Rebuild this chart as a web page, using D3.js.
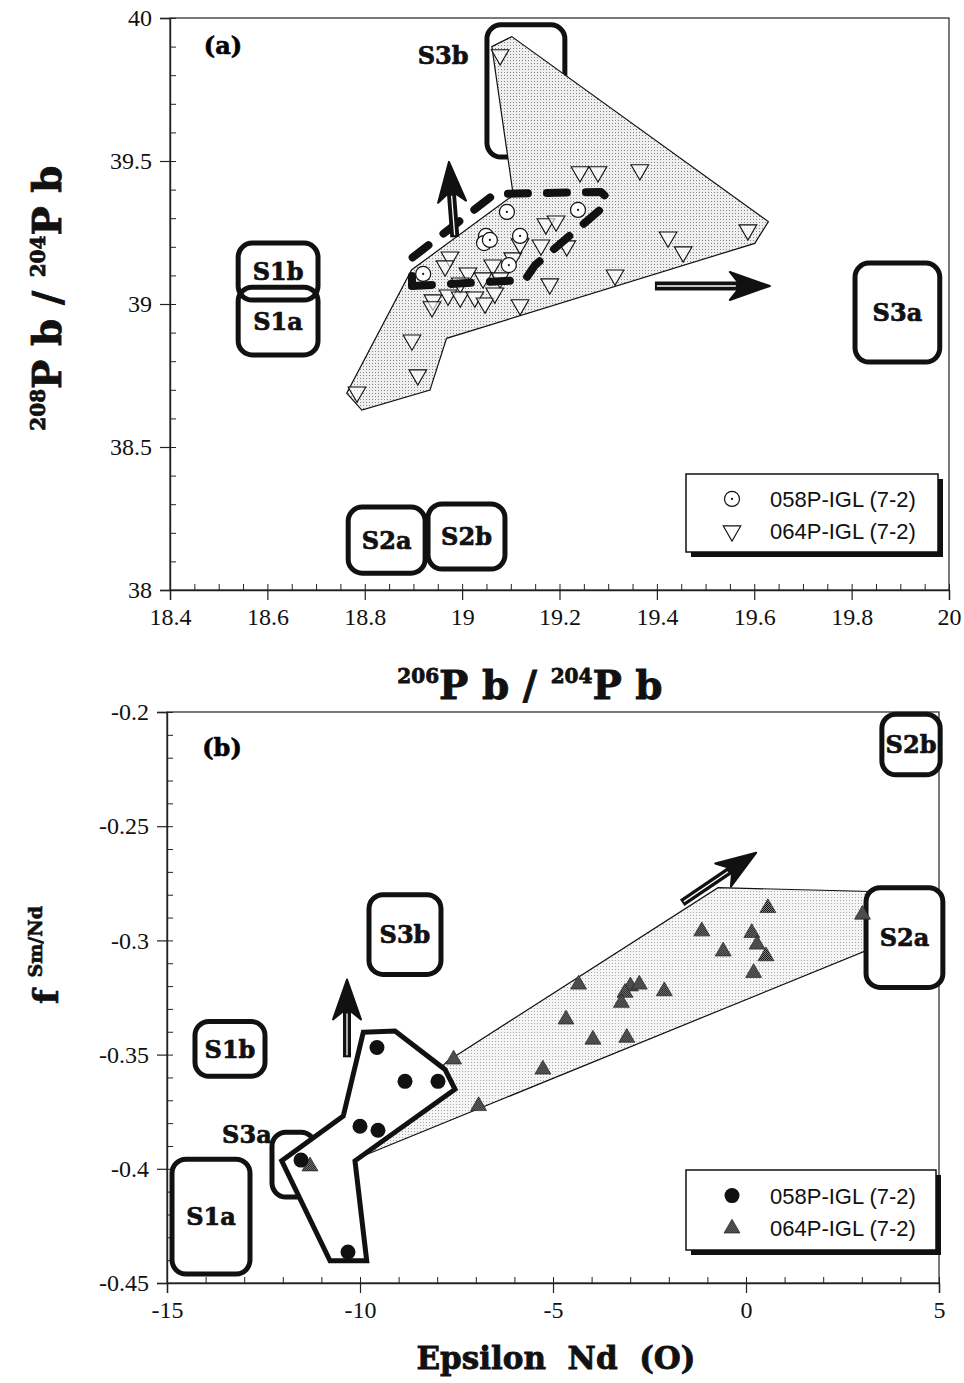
<!DOCTYPE html>
<html>
<head>
<meta charset="utf-8">
<script src="https://cdn.jsdelivr.net/npm/d3@7"></script>
<style>
  body { margin: 0; background: #fff; }
  svg { display: block; }
</style>
</head>
<body>
<svg id="chart" width="964" height="1383"></svg>
<script>
// ---------- Panel (a): 206Pb/204Pb vs 208Pb/204Pb ----------
const pbXTicks = [18.4, 18.6, 18.8, 19, 19.2, 19.4, 19.6, 19.8, 20];
const pbXTickLabels = ["18.4", "18.6", "18.8", "19", "19.2", "19.4", "19.6", "19.8", "20"];
const pbYTicks = [38, 38.5, 39, 39.5, 40];
const pbYTickLabels = ["38", "38.5", "39", "39.5", "40"];

// 058P-IGL (7-2) samples  [206Pb/204Pb, 208Pb/204Pb]
const pb058 = [
  [18.920, 39.105], [19.049, 39.238], [19.045, 39.213], [19.057, 39.224],
  [19.092, 39.322], [19.119, 39.238], [19.238, 39.329], [19.096, 39.136]
];
// 064P-IGL (7-2) samples
const pb064 = [
  [19.078, 39.871], [19.242, 39.462], [19.279, 39.462], [19.365, 39.469],
  [19.587, 39.259], [19.423, 39.234], [19.454, 39.182], [19.314, 39.101],
  [19.180, 39.070], [19.119, 38.997], [19.172, 39.280], [19.193, 39.290],
  [19.215, 39.203], [19.162, 39.206], [19.104, 39.161], [19.063, 39.136],
  [19.119, 39.210], [18.975, 39.164], [18.965, 39.133], [19.012, 39.108],
  [19.043, 39.091], [19.078, 39.091], [18.996, 39.073], [18.940, 39.014],
  [18.938, 38.990], [18.971, 39.031], [18.996, 39.024], [19.026, 39.024],
  [19.047, 39.003], [19.067, 39.038], [18.897, 38.874], [18.909, 38.752],
  [18.784, 38.692]
];
// field enclosing the 064P samples
const pbField064 = [
  [19.061, 39.900], [19.102, 39.935], [19.629, 39.288], [19.601, 39.212],
  [18.968, 38.880], [18.934, 38.699], [18.794, 38.629], [18.763, 38.688],
  [18.896, 39.119], [19.105, 39.381]
];
// dashed outline enclosing the 058P samples
const pbField058 = [
  [18.897, 39.063], [19.129, 39.084], [19.150, 39.136], [19.283, 39.329],
  [19.298, 39.371], [19.285, 39.392], [19.067, 39.385], [18.897, 39.161]
];
// end-member fields
const pbBoxes = [
  { label: "S1b", x0: 18.540, x1: 18.704, y0: 39.014, y1: 39.213 },
  { label: "S1a", x0: 18.540, x1: 18.704, y0: 38.822, y1: 39.059 },
  { label: "S3b", x0: 19.051, x1: 19.211, y0: 39.514, y1: 39.976, side: [18.961, 39.871] },
  { label: "S2a", x0: 18.766, x1: 18.924, y0: 38.059, y1: 38.290 },
  { label: "S2b", x0: 18.930, x1: 19.088, y0: 38.073, y1: 38.301 },
  { label: "S3a", x0: 19.807, x1: 19.981, y0: 38.797, y1: 39.143 }
];
// trend arrows [from, to]
const pbArrows = [
  [[18.985, 39.234], [18.973, 39.497]],
  [[19.396, 39.063], [19.632, 39.063]]
];

// ---------- Panel (b): Epsilon Nd vs fSm/Nd ----------
const ndXTicks = [-15, -10, -5, 0, 5];
const ndXTickLabels = ["-15", "-10", "-5", "0", "5"];
const ndYTicks = [-0.45, -0.4, -0.35, -0.3, -0.25, -0.2];
const ndYTickLabels = ["-0.45", "-0.4", "-0.35", "-0.3", "-0.25", "-0.2"];

const nd058 = [
  [-9.560, -0.3469], [-8.834, -0.3617], [-7.979, -0.3617], [-10.00, -0.3814],
  [-9.534, -0.3831], [-11.528, -0.3962], [-10.311, -0.4364]
];
const nd064 = [
  [0.567, -0.2858], [-1.145, -0.2960], [0.150, -0.2967], [0.287, -0.3018],
  [-0.591, -0.3048], [0.518, -0.3069], [0.197, -0.3142], [3.018, -0.2887],
  [-4.337, -0.3193], [-2.995, -0.3201], [-2.764, -0.3193], [-2.117, -0.3222],
  [-3.135, -0.3229], [-3.228, -0.3273], [-4.663, -0.3346], [-3.966, -0.3434],
  [-3.088, -0.3426], [-5.262, -0.3565], [-7.575, -0.3521], [-6.927, -0.3725],
  [-11.295, -0.3989]
];
const ndField064 = [
  [-10.130, -0.3958], [-7.746, -0.3530], [-0.725, -0.2769],
  [3.500, -0.2787], [3.500, -0.3018]
];
const ndField058 = [
  [-9.914, -0.3402], [-9.093, -0.3397], [-7.798, -0.3565], [-7.539, -0.3652],
  [-10.130, -0.3965], [-9.826, -0.4403], [-10.777, -0.4403], [-12.028, -0.3965],
  [-10.433, -0.3769]
];
const ndBoxes = [
  { label: "S2b", x0: 3.52, x1: 5.03, y0: -0.2275, y1: -0.2010 },
  { label: "S2a", x0: 3.11, x1: 5.10, y0: -0.3206, y1: -0.2769, fill: true },
  { label: "S3b", x0: -9.767, x1: -7.902, y0: -0.3149, y1: -0.2800 },
  { label: "S1b", x0: -14.275, x1: -12.461, y0: -0.3595, y1: -0.3355 },
  { label: "S1a", x0: -14.870, x1: -12.850, y0: -0.4461, y1: -0.3958 },
  { label: "S3a", x0: -12.280, x1: -11.166, y0: -0.4124, y1: -0.3840, side: [-12.93, -0.3850] }
];
const ndArrows = [
  [[-10.337, -0.3512], [-10.337, -0.3171]],
  [[-1.653, -0.2835], [0.264, -0.2616]]
];

const seriesNames = ["058P-IGL (7-2)", "064P-IGL (7-2)"];

// ---------- drawing ----------
const svg = d3.select("#chart");
const defs = svg.append("defs");

const stip = defs.append("pattern").attr("id", "stipple")
  .attr("patternUnits", "userSpaceOnUse").attr("width", 3).attr("height", 3);
stip.append("rect").attr("width", 3).attr("height", 3).attr("fill", "#efefef");
stip.append("rect").attr("x", 0).attr("y", 0).attr("width", 1).attr("height", 1).attr("fill", "#858585");

const stipL = defs.append("pattern").attr("id", "stippleLight")
  .attr("patternUnits", "userSpaceOnUse").attr("width", 3).attr("height", 3);
stipL.append("rect").attr("width", 3).attr("height", 3).attr("fill", "#f5f5f5");
stipL.append("rect").attr("x", 0).attr("y", 0).attr("width", 1).attr("height", 1).attr("fill", "#a8a8a8");

const chk = defs.append("pattern").attr("id", "checker")
  .attr("patternUnits", "userSpaceOnUse").attr("width", 2).attr("height", 2);
chk.append("rect").attr("width", 2).attr("height", 2).attr("fill", "#999");
chk.append("rect").attr("width", 1).attr("height", 1).attr("fill", "#000");
chk.append("rect").attr("x", 1).attr("y", 1).attr("width", 1).attr("height", 1).attr("fill", "#000");

const TITLE_FONT = "DejaVu Serif";
const TICK_FONT = "Liberation Serif";

function drawAxes(x, y, xTicks, xLabels, yTicks, yLabels, xMinor, yMinor) {
  const [x0, x1] = x.range();
  const [y0, y1] = y.range();
  const g = svg.append("g");
  // frame
  g.append("rect").attr("x", x0).attr("y", y1).attr("width", x1 - x0).attr("height", y0 - y1)
    .attr("fill", "none").attr("stroke", "#222").attr("stroke-width", 1.2);
  // minor ticks (inside)
  g.append("g").attr("transform", `translate(0,${y0})`)
    .call(d3.axisBottom(x).tickValues(xMinor).tickSize(-6).tickFormat(""))
    .call(s => s.select(".domain").remove());
  g.append("g").attr("transform", `translate(${x0},0)`)
    .call(d3.axisLeft(y).tickValues(yMinor).tickSize(-6).tickFormat(""))
    .call(s => s.select(".domain").remove());
  // major ticks (outside) with labels
  const ax = g.append("g").attr("transform", `translate(0,${y0})`)
    .call(d3.axisBottom(x).tickValues(xTicks).tickSize(10).tickPadding(8)
      .tickFormat((d, i) => xLabels[i]));
  const ay = g.append("g").attr("transform", `translate(${x0},0)`)
    .call(d3.axisLeft(y).tickValues(yTicks).tickSize(10).tickPadding(8)
      .tickFormat((d, i) => yLabels[i]));
  [ax, ay].forEach(a => {
    a.select(".domain").attr("stroke", "#222").attr("stroke-width", 1.4);
    a.selectAll("line").attr("stroke", "#222").attr("stroke-width", 1.2);
    a.selectAll("text").attr("font-family", TICK_FONT).attr("font-size", 24).attr("fill", "#111");
  });
  g.selectAll("line").attr("stroke", "#222");
}

function roundBox(g, x, y, b) {
  const X0 = x(b.x0), X1 = x(b.x1), Y0 = y(b.y1), Y1 = y(b.y0);
  g.append("rect").attr("x", X0).attr("y", Y0).attr("width", X1 - X0).attr("height", Y1 - Y0)
    .attr("rx", 14).attr("ry", 14)
    .attr("fill", b.fill ? "#fff" : "none").attr("stroke", "#111").attr("stroke-width", 5);
}

function boxLabel(g, x, y, b) {
  const pos = b.side ? [x(b.side[0]), y(b.side[1])] : [(x(b.x0) + x(b.x1)) / 2, (y(b.y0) + y(b.y1)) / 2];
  g.append("text").attr("x", pos[0]).attr("y", pos[1]).attr("dy", "0.36em")
    .attr("text-anchor", "middle").attr("font-family", TITLE_FONT).attr("font-weight", "bold")
    .attr("font-size", 24).attr("fill", "#111").attr("stroke", "#111").attr("stroke-width", 0.7)
    .text(b.label);
}

function arrow(g, p0, p1, headLen, headW, shaftW) {
  const ang = Math.atan2(p1[1] - p0[1], p1[0] - p0[0]);
  const ux = Math.cos(ang), uy = Math.sin(ang), nx = -uy, ny = ux;
  const bx = p1[0] - ux * headLen * 0.7, by = p1[1] - uy * headLen * 0.7;
  g.append("line").attr("x1", p0[0]).attr("y1", p0[1]).attr("x2", bx).attr("y2", by)
    .attr("stroke", "#111").attr("stroke-width", shaftW);
  g.append("line").attr("x1", p0[0] + ux * 2).attr("y1", p0[1] + uy * 2)
    .attr("x2", p1[0] - ux * headLen * 0.85).attr("y2", p1[1] - uy * headLen * 0.85)
    .attr("stroke", "#fff").attr("stroke-width", 1.3);
  const tip = p1;
  const l = [p1[0] - ux * headLen + nx * headW / 2, p1[1] - uy * headLen + ny * headW / 2];
  const r = [p1[0] - ux * headLen - nx * headW / 2, p1[1] - uy * headLen - ny * headW / 2];
  const n = [p1[0] - ux * headLen * 0.72, p1[1] - uy * headLen * 0.72];
  g.append("path").attr("d", d3.line()([tip, l, n, r]) + "Z").attr("fill", "#111")
    .attr("stroke", "#111").attr("stroke-width", 2).attr("stroke-linejoin", "round");
}

function legend(g, x0, y0, w, h, symbols) {
  g.append("rect").attr("x", x0 + 5).attr("y", y0 + 5).attr("width", w).attr("height", h).attr("fill", "#111");
  g.append("rect").attr("x", x0).attr("y", y0).attr("width", w).attr("height", h)
    .attr("fill", "#fff").attr("stroke", "#111").attr("stroke-width", 1.5);
  symbols.forEach((s, i) => {
    const cy = y0 + h * (i === 0 ? 0.32 : 0.73);
    s(g, x0 + 46, cy);
    g.append("text").attr("x", x0 + 84).attr("y", cy).attr("dy", "0.36em")
      .attr("font-family", "Liberation Sans").attr("font-size", 22).attr("fill", "#111")
      .text(seriesNames[i]);
  });
}

const triSym = d3.symbol().type(d3.symbolTriangle);

// ----- Panel (a) -----
const xA = d3.scaleLinear().domain([18.4, 20]).range([170, 949]);
const yA = d3.scaleLinear().domain([38, 40]).range([590, 18]);
drawAxes(xA, yA, pbXTicks, pbXTickLabels, pbYTicks, pbYTickLabels, xA.ticks(32), yA.ticks(20));

const gA = svg.append("g");
pbBoxes.forEach(b => roundBox(gA, xA, yA, b));
gA.append("path").datum(pbField064)
  .attr("d", d3.line().x(d => xA(d[0])).y(d => yA(d[1])).curve(d3.curveLinearClosed))
  .attr("fill", "url(#stipple)").attr("stroke", "#111").attr("stroke-width", 1.2);

const drawOpenCircle = (g, cx, cy) => {
  g.append("circle").attr("cx", cx).attr("cy", cy).attr("r", 7.5)
    .attr("fill", "#fff").attr("stroke", "#111").attr("stroke-width", 1.2);
  g.append("circle").attr("cx", cx).attr("cy", cy).attr("r", 1.1).attr("fill", "#111");
};
const drawDownTri = (g, cx, cy) => {
  g.append("path").attr("d", triSym.size(135)())
    .attr("transform", `translate(${cx},${cy}) rotate(180)`)
    .attr("fill", "#fff").attr("fill-opacity", 0.6).attr("stroke", "#111").attr("stroke-width", 1.1);
};

pb064.forEach(d => drawDownTri(gA, xA(d[0]), yA(d[1])));
pb058.forEach(d => drawOpenCircle(gA, xA(d[0]), yA(d[1])));

gA.append("path").datum(pbField058)
  .attr("d", d3.line().x(d => xA(d[0])).y(d => yA(d[1])).curve(d3.curveLinearClosed))
  .attr("fill", "none").attr("stroke", "#111").attr("stroke-width", 8)
  .attr("stroke-dasharray", "20 19").attr("stroke-linecap", "round").attr("stroke-linejoin", "round");

pbArrows.forEach(a => arrow(gA, [xA(a[0][0]), yA(a[0][1])], [xA(a[1][0]), yA(a[1][1])], 40, 28, 9));
pbBoxes.forEach(b => boxLabel(gA, xA, yA, b));

gA.append("text").attr("x", 223).attr("y", 45).attr("dy", "0.36em").attr("text-anchor", "middle")
  .attr("font-family", TITLE_FONT).attr("font-weight", "bold").attr("font-size", 24)
  .attr("stroke", "#111").attr("stroke-width", 0.7).text("(a)");

legend(gA, 686, 474, 252, 78, [drawOpenCircle, drawDownTri]);

// axis titles (a)
const tx = svg.append("text").attr("x", 530).attr("y", 699).attr("text-anchor", "middle")
  .attr("font-family", TITLE_FONT).attr("font-weight", "bold").attr("fill", "#111")
  .attr("stroke", "#111").attr("stroke-width", 0.8);
tx.append("tspan").attr("font-size", 20).attr("dy", -16).text("206");
tx.append("tspan").attr("font-size", 39).attr("dy", 16).text("P b / ");
tx.append("tspan").attr("font-size", 20).attr("dy", -16).text("204");
tx.append("tspan").attr("font-size", 39).attr("dy", 16).text("P b");

const ty = svg.append("text").attr("transform", "translate(61,298) rotate(-90)").attr("text-anchor", "middle")
  .attr("font-family", TITLE_FONT).attr("font-weight", "bold").attr("fill", "#111")
  .attr("stroke", "#111").attr("stroke-width", 0.8);
ty.append("tspan").attr("font-size", 20).attr("dy", -16).text("208");
ty.append("tspan").attr("font-size", 39).attr("dy", 16).text("P b / ");
ty.append("tspan").attr("font-size", 20).attr("dy", -16).text("204");
ty.append("tspan").attr("font-size", 39).attr("dy", 16).text("P b");

// ----- Panel (b) -----
const xB = d3.scaleLinear().domain([-15, 5]).range([167, 939]);
const yB = d3.scaleLinear().domain([-0.45, -0.2]).range([1283, 712]);
drawAxes(xB, yB, ndXTicks, ndXTickLabels, ndYTicks, ndYTickLabels, xB.ticks(20), yB.ticks(25));

const gB = svg.append("g");
gB.append("path").datum(ndField064)
  .attr("d", d3.line().x(d => xB(d[0])).y(d => yB(d[1])).curve(d3.curveLinearClosed))
  .attr("fill", "url(#stippleLight)").attr("stroke", "#111").attr("stroke-width", 1.2);

ndBoxes.filter(b => b.label === "S3a").forEach(b => roundBox(gB, xB, yB, b));
gB.append("path").datum(ndField058)
  .attr("d", d3.line().x(d => xB(d[0])).y(d => yB(d[1])).curve(d3.curveLinearClosed))
  .attr("fill", "#fff").attr("stroke", "#111").attr("stroke-width", 5).attr("stroke-linejoin", "miter");
ndBoxes.filter(b => b.label !== "S3a").forEach(b => roundBox(gB, xB, yB, b));

ndArrows.forEach(a => arrow(gB, [xB(a[0][0]), yB(a[0][1])], [xB(a[1][0]), yB(a[1][1])], 40, 28, 8));

const drawFilledCircle = (g, cx, cy) => {
  g.append("circle").attr("cx", cx).attr("cy", cy).attr("r", 7.5).attr("fill", "#111");
};
const drawUpTri = (g, cx, cy) => {
  g.append("path").attr("d", triSym.size(110)())
    .attr("transform", `translate(${cx},${cy})`)
    .attr("fill", "url(#checker)").attr("stroke", "#222").attr("stroke-width", 0.7);
};
nd064.forEach(d => drawUpTri(gB, xB(d[0]), yB(d[1])));
nd058.forEach(d => drawFilledCircle(gB, xB(d[0]), yB(d[1])));
ndBoxes.forEach(b => boxLabel(gB, xB, yB, b));

gB.append("text").attr("x", 222).attr("y", 747).attr("dy", "0.36em").attr("text-anchor", "middle")
  .attr("font-family", TITLE_FONT).attr("font-weight", "bold").attr("font-size", 24)
  .attr("stroke", "#111").attr("stroke-width", 0.7).text("(b)");

legend(gB, 686, 1170, 250, 80, [drawFilledCircle, drawUpTri]);

svg.append("text").attr("x", 556).attr("y", 1369).attr("text-anchor", "middle")
  .attr("font-family", TITLE_FONT).attr("font-weight", "bold").attr("font-size", 31)
  .attr("fill", "#111").attr("stroke", "#111").attr("stroke-width", 0.8)
  .attr("xml:space", "preserve").text("Epsilon  Nd  (O)");

const tyB = svg.append("text").attr("transform", "translate(58,955) rotate(-90)").attr("text-anchor", "middle")
  .attr("font-family", TITLE_FONT).attr("font-weight", "bold").attr("fill", "#111")
  .attr("stroke", "#111").attr("stroke-width", 0.6);
tyB.append("tspan").attr("font-size", 34).text("f ");
tyB.append("tspan").attr("font-size", 19).attr("dy", -16).text("Sm/Nd");
</script>
</body>
</html>
